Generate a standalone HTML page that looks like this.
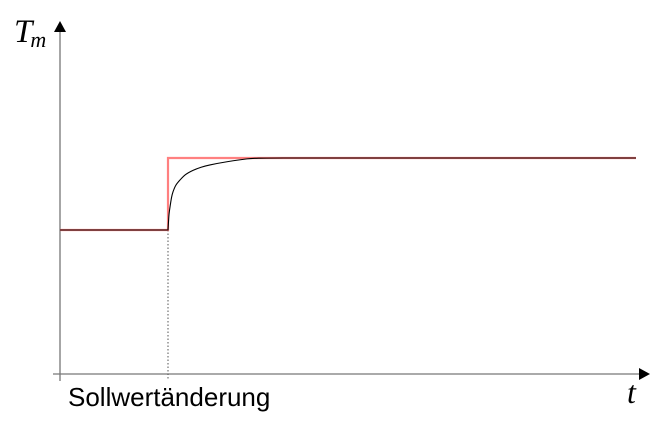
<!DOCTYPE html>
<html><head><meta charset="utf-8"><style>
html,body{margin:0;padding:0;background:#fff;width:658px;height:424px;overflow:hidden}
svg{display:block}
</style></head><body>
<svg id="chart" width="658" height="424">
  <line x1="60" y1="381" x2="60" y2="30" stroke="#777" stroke-width="1.3"/>
  <polygon points="60,21 54,32 66,32" fill="#000"/>
  <line x1="53" y1="374" x2="640" y2="374" stroke="#777" stroke-width="1.3"/>
  <polygon points="650,374 639,368 639,380" fill="#000"/>
  <text x="14" y="42" font-family="Liberation Serif, serif" font-style="italic" font-size="33">T<tspan font-size="22" dy="5" dx="-2">m</tspan></text>
  <text x="627" y="403" font-family="Liberation Serif, serif" font-style="italic" font-size="32">t</text>
  <text x="68" y="406" font-family="Liberation Sans, sans-serif" font-size="26">Sollwertänderung</text>
  <g id="marks"></g>
</svg>
<script>
const stepTime = 18.75;
const setpointTimes = [0, 18.75, 18.75, 100];
const setpointValues = [1.0, 1.0, 1.5, 1.5];
const responseTimes = [0, 18.75, 18.84, 18.93, 19.10, 19.36, 19.62, 20.10, 20.83, 21.8, 23.09, 24.5, 26.04, 28.99, 32.47, 34.72, 40, 100];
const responseValues = [1.0, 1.0, 1.06, 1.11, 1.16, 1.225, 1.265, 1.31, 1.347, 1.385, 1.414, 1.436, 1.452, 1.474, 1.494, 1.499, 1.5, 1.5];

const xScale = t => 60 + t * 5.76;
const yScale = v => 374 - v * 144;
const g = document.getElementById('marks');
const NS = 'http://www.w3.org/2000/svg';

const guide = document.createElementNS(NS, 'line');


guide.setAttribute('x1', xScale(stepTime)); guide.setAttribute('x2', xScale(stepTime));
guide.setAttribute('y1', yScale(setpointValues[0])); guide.setAttribute('y2', 379);
guide.setAttribute('stroke', '#555'); guide.setAttribute('stroke-width', '1');
guide.setAttribute('stroke-dasharray', '1.5,2');
g.appendChild(guide);

function pts(ts, vs){ return ts.map((t,i)=>xScale(t).toFixed(2)+','+yScale(vs[i]).toFixed(2)).join(' '); }
function smoothPath(ts, vs){
  const p = ts.map((t,i)=>[xScale(t), yScale(vs[i])]);
  const n = p.length;
  let d = 'M' + p[0][0] + ',' + p[0][1] + ' L' + p[1][0] + ',' + p[1][1];
  for (let i=1;i<n-2;i++){
    const p0 = p[i===1 ? 1 : i-1], p1 = p[i], p2 = p[i+1], p3 = p[(i+2>=n-1) ? i+1 : i+2];
    const c1 = [p1[0]+(p2[0]-p0[0])/6, p1[1]+(p2[1]-p0[1])/6];
    const c2 = [p2[0]-(p3[0]-p1[0])/6, p2[1]-(p3[1]-p1[1])/6];
    d += ' C' + c1[0].toFixed(2)+','+c1[1].toFixed(2)+' '+c2[0].toFixed(2)+','+c2[1].toFixed(2)+' '+p2[0].toFixed(2)+','+p2[1].toFixed(2);
  }
  d += ' L' + p[n-1][0] + ',' + p[n-1][1];
  return d;
}

const sp = document.createElementNS(NS, 'polyline');


sp.setAttribute('points', pts(setpointTimes, setpointValues));
sp.setAttribute('fill', 'none'); sp.setAttribute('stroke', '#ff8080'); sp.setAttribute('stroke-width', '2.2');
g.appendChild(sp);

const rs = document.createElementNS(NS, 'path');


rs.setAttribute('d', smoothPath(responseTimes, responseValues));
rs.setAttribute('fill', 'none'); rs.setAttribute('stroke', '#000'); rs.setAttribute('stroke-width', '1.1');
g.appendChild(rs);
</script>
</body></html>
